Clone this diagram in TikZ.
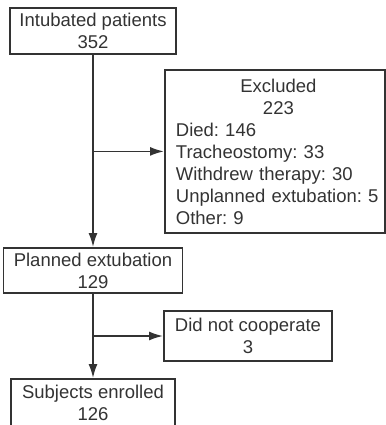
\documentclass[tikz,border=0pt]{standalone}
\usepackage{fontspec}
\setmainfont{Liberation Sans}
\usetikzlibrary{arrows.meta}
\definecolor{linegray}{HTML}{333333}
\tikzset{
  box/.style={draw=linegray, line width=1.8pt, text=linegray, inner sep=0pt, align=center, font={\fontsize{18.5}{22}\selectfont\frenchspacing}},
  flow/.style={draw=linegray, line width=1.8pt, -{Latex[length=14pt,width=9pt]}}
}
\newcommand{\ind}{\hspace*{7pt}}
\begin{document}
\begin{tikzpicture}[x=1pt,y=-1pt]

\useasboundingbox (0,0) rectangle (385,425);

\node[box, minimum width=166, minimum height=46] (intub) at (93,31) {Intubated patients\\352};
\node[box, anchor=north west, minimum width=220, minimum height=163, text width=212, inner xsep=4pt, align=left] (excl) at (164,69)
    {{\centering\ind Excluded\\\ind 223\par}\ind Died: 146\\\ind Tracheostomy: 33\\\ind Withdrew therapy: 30\\\ind Unplanned extubation: 5\\\ind Other: 9};
\node[box, minimum width=179, minimum height=45] (planned) at (93,270.5) {Planned extubation\\129};
\node[box, minimum width=168, minimum height=50] (dnc) at (248,336) {Did not cooperate\\3};
\node[box, minimum width=164, minimum height=47] (subj) at (93,402.5) {Subjects enrolled\\126};

\draw[flow] (intub) -- (planned);
\draw[flow] (planned) -- (subj);
\draw[flow] (excl.west -| intub.south) -- (excl.west);
\draw[flow] (dnc.west -| planned.south) -- (dnc.west);
\end{tikzpicture}
\end{document}
